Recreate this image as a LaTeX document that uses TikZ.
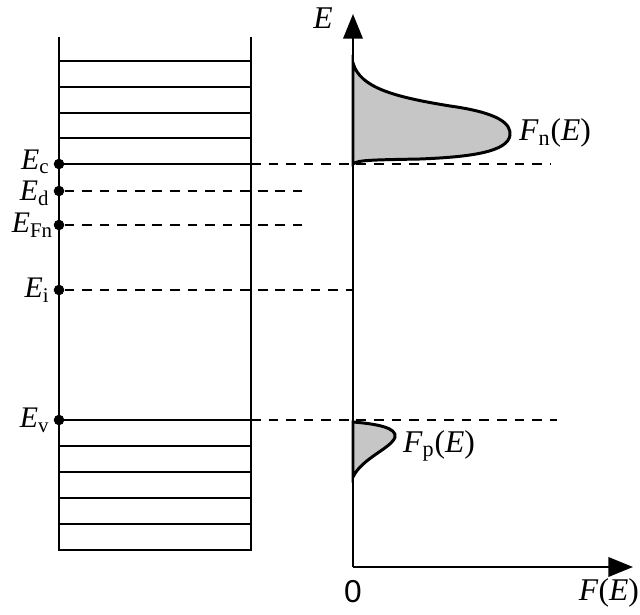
\documentclass[tikz,border=0pt]{standalone}
\usepackage{fontspec}
\setmainfont{Liberation Serif}
\setsansfont{Liberation Sans}
\usetikzlibrary{arrows.meta, positioning}
\tikzset{
    band/.style={line width=1.5pt},
    level/.style={line width=1.4pt, dash pattern=on 5.5pt off 4.5pt},
    leveldot/.style={circle, fill=black, inner sep=0pt, minimum size=6pt},
    dist/.style={line width=1.7pt, fill=gray!45},
    axis/.style={line width=1.5pt, -{Triangle[length=14pt,width=11pt]}},
    lbl/.style={font=\fontsize{18}{20}\selectfont, inner sep=1pt},
    levellbl/.style={font=\fontsize{17}{19}\selectfont, inner sep=0pt, text height=11pt, text depth=2pt}
}
\newcommand{\sym}[2]{\textit{#1}\textsubscript{#2}}

\begin{document}
\begin{tikzpicture}[x=0.02cm, y=-0.02cm]
    \useasboundingbox (0,0) rectangle (640,615);
    % Band box
    \draw[band] (59,37) -- (59,550) -- (251,550) -- (251,37);
    \foreach \y in {61,87,113,138,164,420,446,472,498,524}
        \draw[band] (59,\y) -- (251,\y);

    % Level markers
    \node (ec) [leveldot] at (59,164) {};
    \node (ed) [leveldot] at (59,191) {};
    \node (efn) [leveldot] at (59,225) {};
    \node (ei) [leveldot] at (59,290) {};
    \node (ev) [leveldot] at (59,420) {};
    \node [levellbl, left=2pt of ec, yshift=1.5pt] {\sym{E}{c}};
    \node [levellbl, left=2pt of ed, yshift=-1pt] {\sym{E}{d}};
    \node [levellbl, left=0pt of efn] {\sym{E}{Fn}};
    \node [levellbl, left=2pt of ei] {\sym{E}{i}};
    \node [levellbl, left=2pt of ev] {\sym{E}{v}};

    % Dashed levels
    \coordinate (ecr) at (251,164);
    \coordinate (ecend) at (550,164);
    \coordinate (edend) at (302,191);
    \coordinate (efnend) at (302,225);
    \coordinate (eiend) at (353,290);
    \coordinate (evr) at (251,420);
    \coordinate (evend) at (557,420);
    \draw[level] (ecr) -- (ecend);
    \draw[level] (ed) -- (edend);
    \draw[level] (efn) -- (efnend);
    \draw[level] (ei) -- (eiend);
    \draw[level] (evr) -- (evend);

    % Distributions
    \draw[dist] (353,63) .. controls (360,88) and (395,97) .. (450,106)
        .. controls (500,113) and (511,124) .. (510,135)
        .. controls (508,152) and (470,157) .. (420,159)
        .. controls (370,160) and (358,160) .. (353,164) -- cycle;
    \draw[dist] (353,422) .. controls (378,424) and (397,428) .. (395,437)
        .. controls (392,448) and (362,458) .. (353,477) -- cycle;
    \node (fn) [lbl, anchor=west] at (517,133) {\sym{F}{n}(\textit{E})};
    \node (fp) [lbl, anchor=west] at (401,446) {\sym{F}{p}(\textit{E})};

    % Axes
    \coordinate (origin) at (353,567);
    \coordinate (etop) at (353,14);
    \coordinate (fright) at (633,567);
    \draw[axis] (origin) -- (etop);
    \draw[axis] (origin) -- (fright);
    \node (elbl) [lbl] at (323,18) {\textit{E}};
    \node (zero) [lbl, font=\sffamily\fontsize{18}{20}\selectfont] at (353,592) {0};
    \node (flbl) [lbl, anchor=east] at (641,593) {\textit{F}(\textit{E})};
\end{tikzpicture}
\end{document}
